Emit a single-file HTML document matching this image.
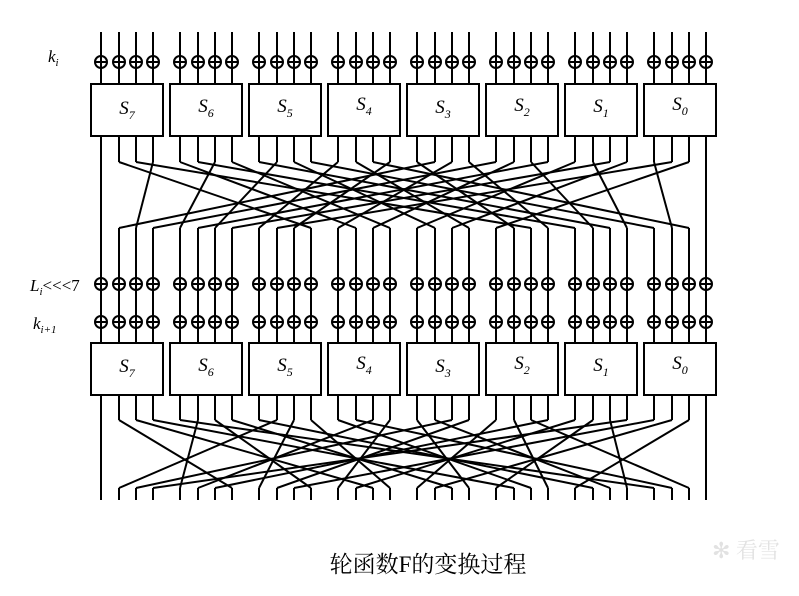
<!DOCTYPE html>
<html><head><meta charset="utf-8">
<style>
body{margin:0;background:#fff;width:799px;height:596px;overflow:hidden}
svg{display:block}
text{font-family:"Liberation Serif","Noto Serif CJK SC",serif;fill:#000}
</style></head>
<body>
<svg id="s" width="799" height="596" viewBox="0 0 799 596" xmlns="http://www.w3.org/2000/svg">
<g id="g" stroke="#000" stroke-width="2" fill="none"></g>
<text x="48" y="62" font-size="17" font-style="italic">k<tspan font-size="11" dy="4">i</tspan></text>
<text x="30" y="291" font-size="17"><tspan font-style="italic">L</tspan><tspan font-size="11" dy="4" font-style="italic">i</tspan><tspan dy="-4">&lt;&lt;&lt;7</tspan></text>
<text x="33" y="329" font-size="17" font-style="italic">k<tspan font-size="11" dy="4">i+1</tspan></text>
<g font-size="19" font-style="italic" text-anchor="middle">
<text x="127" y="114">S<tspan font-size="12" dy="5">7</tspan></text>
<text x="206" y="112">S<tspan font-size="12" dy="5">6</tspan></text>
<text x="285" y="112">S<tspan font-size="12" dy="5">5</tspan></text>
<text x="364" y="110">S<tspan font-size="12" dy="5">4</tspan></text>
<text x="443" y="113">S<tspan font-size="12" dy="5">3</tspan></text>
<text x="522" y="111">S<tspan font-size="12" dy="5">2</tspan></text>
<text x="601" y="112">S<tspan font-size="12" dy="5">1</tspan></text>
<text x="680" y="110">S<tspan font-size="12" dy="5">0</tspan></text>
<text x="127" y="372">S<tspan font-size="12" dy="5">7</tspan></text>
<text x="206" y="371">S<tspan font-size="12" dy="5">6</tspan></text>
<text x="285" y="371">S<tspan font-size="12" dy="5">5</tspan></text>
<text x="364" y="369">S<tspan font-size="12" dy="5">4</tspan></text>
<text x="443" y="372">S<tspan font-size="12" dy="5">3</tspan></text>
<text x="522" y="369">S<tspan font-size="12" dy="5">2</tspan></text>
<text x="601" y="371">S<tspan font-size="12" dy="5">1</tspan></text>
<text x="680" y="369">S<tspan font-size="12" dy="5">0</tspan></text>
</g>
<text x="428" y="572" font-size="23" text-anchor="middle">轮函数F的变换过程</text>
<text x="712" y="558" font-size="22" fill="#e4e4e4" style="fill:#e2e2e2" font-family="'Noto Sans CJK SC',sans-serif">✻ 看雪</text>
</svg>
<script>
var g=document.getElementById('g'),h='';
function L(a,b,c,d){h+='<line x1="'+a+'" y1="'+b+'" x2="'+c+'" y2="'+d+'"/>';}
function X(x,y){h+='<circle cx="'+x+'" cy="'+y+'" r="6"/>';L(x-6,y,x+6,y);}
var off=[10,28,45,62];
function px(i){return 91+Math.floor(i/4)*79+off[i%4];}
var perm=[];for(var i=0;i<32;i++){perm.push(i==31?31:(i*11)%31);}
var perm2=[];for(var i=0;i<32;i++){perm2.push(i==31?31:(i*7)%31);}
for(var b=0;b<8;b++){var bx=91+b*79;
 h+='<rect x="'+bx+'" y="84" width="72" height="52"/>';
 h+='<rect x="'+bx+'" y="343" width="72" height="52"/>';}
for(var i=0;i<32;i++){var x=px(i);
 L(x,32,x,84);X(x,62);
 // first permutation
 var d=px(perm[i]);
 if(i==0||i==31){L(x,136,x,285);}
 else{L(x,136,x,162);L(x,162,d,228);}
 if(i!=0&&i!=31){}
 X(x,284);X(x,322);
 L(x,228,x,343);
 // second
 var d2=px(perm2[i]);
 if(i==0||i==31){L(x,395,x,500);}
 else{L(x,395,x,420);L(x,420,d2,488);}
 L(x,488,x,500);
}
g.innerHTML=h;
</script>
</body></html>
